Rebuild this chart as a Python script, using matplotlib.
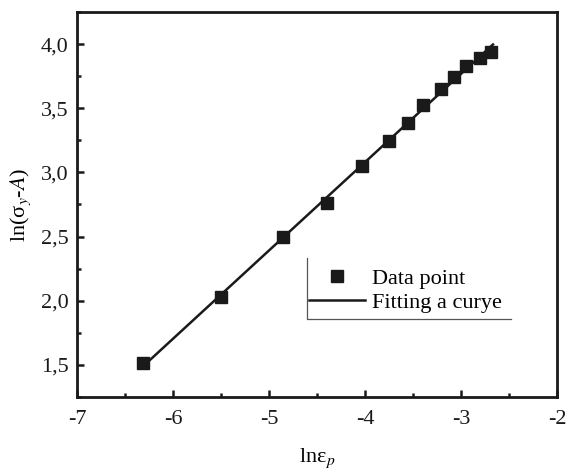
import numpy as np
import matplotlib
matplotlib.use("Agg")
import matplotlib.pyplot as plt
from matplotlib.ticker import MultipleLocator, FuncFormatter
from matplotlib.lines import Line2D

plt.rcParams['font.family'] = ['Liberation Serif', 'DejaVu Serif']
plt.rcParams['mathtext.fontset'] = 'stix'

# Data
ln_eps = [-6.316, -5.503, -4.851, -4.401, -4.035, -3.745, -3.551,
          -3.393, -3.210, -3.073, -2.951, -2.802, -2.688]
ln_sig = [1.512, 2.026, 2.494, 2.764, 3.052, 3.248, 3.384,
          3.523, 3.649, 3.744, 3.830, 3.894, 3.936]
fit_range = [-6.316, -2.667]

x_ticks = [-7, -6, -5, -4, -3, -2]
y_ticks = [1.5, 2.0, 2.5, 3.0, 3.5, 4.0]

fig = plt.figure(figsize=(5.66, 4.72), dpi=100)
ax = fig.add_axes([77/566, 1-397/472, 480/566, 385/472])

coef = np.polyfit(ln_eps, ln_sig, 1)
fx = np.array(fit_range)
ax.plot(fx, np.polyval(coef, fx), color='#1a1a1a', lw=1.8, zorder=2)
ax.plot(ln_eps, ln_sig, 's', color='#1a1a1a', ms=8.5, zorder=3)

ax.set_xlim(-7, -2)
ax.set_ylim(1.25, 4.25)
ax.set_xticks(x_ticks)
ax.set_yticks(y_ticks)
ax.xaxis.set_minor_locator(MultipleLocator(0.5))
ax.yaxis.set_minor_locator(MultipleLocator(0.25))
ax.yaxis.set_major_formatter(FuncFormatter(lambda v, p: f"{v:.1f}".replace('.', ',')))
ax.xaxis.set_major_formatter(FuncFormatter(lambda v, p: f"{int(v)}"))

ax.tick_params(which='both', direction='in', top=False, right=False,
               labelsize=16, colors='#1a1a1a')
ax.tick_params(which='major', length=5, width=1.8)
ax.tick_params(axis='x', which='major', pad=9)
ax.tick_params(axis='y', which='major', pad=6)
ax.tick_params(which='minor', length=3, width=1.8)
for s in ax.spines.values():
    s.set_linewidth(2.0)
    s.set_color('#1a1a1a')

ax.set_xlabel(r'lnε$_p$', fontsize=16, labelpad=13)
ax.set_ylabel(r'ln(σ$_y$-$A$)', fontsize=16, labelpad=6)

handles = [Line2D([], [], marker='s', ls='none', color='#1a1a1a', ms=8.5),
           Line2D([], [], color='#1a1a1a', lw=1.8)]
ax.legend(handles, ['Data point', 'Fitting a curye'], loc='upper left',
          bbox_to_anchor=(0.475, 0.345), frameon=False, fontsize=16,
          handlelength=2.5, handletextpad=0.3, borderaxespad=0,
          labelspacing=0.15, borderpad=0.2)
# partial legend frame (left and bottom lines)
ax.plot([0.479, 0.479, 0.904], [0.361, 0.203, 0.203], transform=ax.transAxes,
        color='#555555', lw=0.9, clip_on=False)

fig.savefig('out.png', dpi=100)
